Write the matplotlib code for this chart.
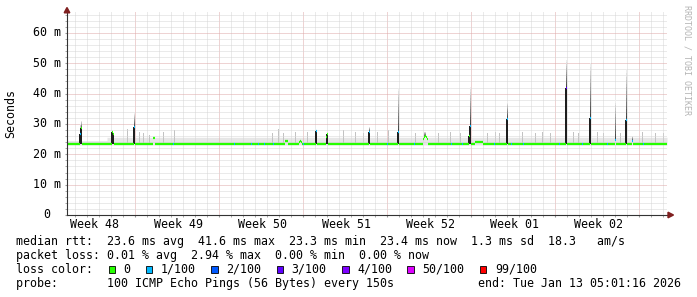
"""
SmokePing style latency chart: median rtt with smoke and loss colours
"""

import matplotlib
matplotlib.use("Agg")
import matplotlib.pyplot as plt
from matplotlib.collections import LineCollection
from matplotlib.patches import Polygon, Rectangle

W, H = 697, 297          # output size in pixels
MONO = "DejaVu Sans Mono"
FS = 8.4

# ============================================================================
# DATA - one slot = one pixel column = 2 h, 50 days
# ============================================================================
n_slots = 600
base_median = 23.4       # ms, the flat median line
base_low = 23.1

haze_start = [0, 40]     # light smoke above the median
haze_top = [24.5, 25.6]

# slots where the median leaves the flat line
spike_slot   = [13, 14, 45, 46, 67, 86, 87, 218, 219, 220, 232, 233, 234,
                249, 259, 260, 302, 331, 356, 357, 358, 359, 360, 402, 403,
                408, 409, 410, 411, 412, 413, 414, 415, 440, 499, 523, 548,
                559, 565]
spike_median = [26.6, 28.6, 27.2, 26.6, 29.0, 25.3, 25.5, 24.3, 24.4, 24.3,
                24.2, 24.5, 24.2, 27.8, 25.6, 26.8, 27.5, 27.2, 25.0, 25.8,
                25.9, 25.8, 25.0, 26.0, 29.4, 24.2, 24.2, 24.2, 24.2, 24.2,
                24.2, 24.2, 24.2, 31.7, 41.8, 32.0, 24.7, 31.3, 24.5]
spike_max    = [30.0, 31.0, 27.8, 27.2, 33.5, 26.0, 26.0, 25.2, 25.2, 25.2,
                25.2, 25.2, 25.2, 28.5, 26.5, 27.2, 29.0, 42.0, 26.0, 27.5,
                27.5, 26.5, 26.0, 28.0, 42.3, 24.8, 24.8, 24.8, 24.8, 24.8,
                24.8, 24.8, 24.8, 37.4, 51.0, 50.0, 38.0, 48.0, 26.0]
spike_loss   = [1, 0, 0, 0, 1, 0, 0, 0, 0, 0, 0, 0, 0, 1, 0, 0, 1, 1, 0, 0,
                0, 0, 0, 0, 1, 0, 0, 0, 0, 0, 0, 0, 0, 1, 3, 1, 1, 1, 1]

# flat-line slots with 1/100 loss (blue)
loss1_slots = [106, 167, 184, 191, 197, 206, 236, 320, 347, 384, 395, 427,
               444, 456, 492, 515, 540, 576]

# thin grey outlier pings above the line
outlier_slot = [60, 72, 76, 82, 96, 107, 205, 211, 216, 228, 240, 276, 288,
                296, 310, 321, 348, 371, 383, 393, 420, 428, 432, 455, 468,
                475, 483, 506, 511, 530, 536, 553, 575, 588, 596]
outlier_top = [28.5, 27.5, 27.0, 26.5, 27.5, 28.0, 27.0, 28.5, 27.0, 27.5,
               27.5, 28.0, 27.5, 27.0, 27.5, 28.0, 27.0, 27.0, 27.5, 27.0,
               27.0, 27.5, 27.0, 27.5, 27.0, 27.5, 27.0, 27.5, 27.0, 27.5,
               27.0, 27.0, 27.5, 27.0, 27.0]

loss_labels = ["0", "1/100", "2/100", "3/100", "4/100", "50/100", "99/100"]
loss_colors = ["#26ff00", "#00b8ff", "#0059ff", "#5e00ff", "#7e00ff",
               "#dd00ff", "#ff0000"]

week_labels = ["Week 48", "Week 49", "Week 50", "Week 51", "Week 52",
               "Week 01", "Week 02"]
first_week_slot = 68      # first week boundary
y_ticks = [0, 10, 20, 30, 40, 50, 60]
y_top = 66.9

legend_lines = [
    "median rtt:  23.6 ms avg  41.6 ms max  23.3 ms min  23.4 ms now  1.3 ms sd  18.3   am/s",
    "packet loss: 0.01 % avg  2.94 % max  0.00 % min  0.00 % now",
]
probe_text = "probe:       100 ICMP Echo Pings (56 Bytes) every 150s"
end_text = "end: Tue Jan 13 05:01:16 2026"


def fx(x):
    return x / W


def fy(y):
    return 1 - y / H


# ============================================================================
# SERIES
# ============================================================================
median = [base_median] * n_slots
loss = [0] * n_slots
top = [0.0] * n_slots
for i in range(len(haze_start)):
    end = haze_start[i + 1] if i + 1 < len(haze_start) else n_slots
    for s in range(haze_start[i], end):
        top[s] = haze_top[i]
for s in loss1_slots:
    loss[s] = 1
for s, m, l in zip(spike_slot, spike_median, spike_loss):
    median[s] = m
    loss[s] = l

# ============================================================================
# PLOT
# ============================================================================
fig = plt.figure(figsize=(W / 100, H / 100), dpi=100)
fig.patch.set_facecolor("white")
ax = fig.add_axes([fx(67), fy(215), 600 / W, 203 / H])
ax.set_xlim(0, n_slots)
ax.set_ylim(0, y_top)

xs = list(range(n_slots + 1))

# light smoke band
ax.fill_between(xs, [base_low] * (n_slots + 1), top + [top[-1]], step="post",
                color="#e6e6e6", lw=0, zorder=1)

# outlier pings
ax.bar(outlier_slot, [t - base_median for t in outlier_top], bottom=base_median,
       width=1, align="edge", color="#c2c2c2", lw=0, zorder=2)

# smoke above spikes: gradient dark -> light
n_layers = 14
for k in range(n_layers):
    bottoms, heights, xpos = [], [], []
    for s, m, mx in zip(spike_slot, spike_median, spike_max):
        if mx - m > 1.0:
            step = (mx - m) / n_layers
            xpos.append(s)
            bottoms.append(m + k * step)
            heights.append(step)
    g = 0.25 + 0.68 * k / (n_layers - 1)
    ax.bar(xpos, heights, bottom=bottoms, width=1.2, align="edge",
           color=(g, g, g), lw=0, zorder=3)

# dense smoke between flat line and raised median
col_x = [s for s, m in zip(spike_slot, spike_median) if m - base_median > 2.6]
col_m = [m for m in spike_median if m - base_median > 2.6]
ax.bar([s - 0.8 for s in col_x], [m - base_median for m in col_m],
       bottom=base_median, width=2.0, align="edge", color="#1e1e1e", lw=0,
       zorder=4)

# median line coloured by loss
segs = [[(s, median[s]), (s + 1, median[s])] for s in range(n_slots)]
cols = [loss_colors[loss[s]] for s in range(n_slots)]
ax.add_collection(LineCollection(segs, colors=cols, linewidths=1.6,
                                 capstyle="butt", zorder=5))

# grid (fine dots, drawn on top like rrdtool)
week_bounds = list(range(first_week_slot, n_slots, 84))
days = list(range(first_week_slot % 12, n_slots, 12))
ax.set_xticks(week_bounds)
ax.set_xticks(days, minor=True)
ax.set_yticks(y_ticks)
ax.set_yticks(list(range(0, 67, 2)), minor=True)
dots = (0, (1, 1))
ax.grid(which="minor", color="#d6d6d6", ls=dots, lw=0.72, zorder=6)
ax.grid(which="major", color="#dfa9a9", ls=dots, lw=0.72, zorder=6)
ax.set_axisbelow(False)
ax.tick_params(which="both", length=1.5, color="#999999",
               labelbottom=False, labelleft=False)

for side in ["top", "right"]:
    ax.spines[side].set_visible(False)
for side in ["left", "bottom"]:
    ax.spines[side].set_color("#333333")
    ax.spines[side].set_linewidth(0.8)
    ax.spines[side].set_zorder(7)

# y labels
for v in y_ticks:
    if v == 0:
        fig.text(fx(43), fy(215), "0", family=MONO, fontsize=FS,
                 ha="left", va="center")
    else:
        ax.text(-6.3, v, f"{v} m", family=MONO, fontsize=FS,
                ha="right", va="center")

# week labels
for i, lab in enumerate(week_labels):
    ax.text(first_week_slot - 41 + 84 * i, -13.4 / 3.033, lab, family=MONO,
            fontsize=FS, ha="center", va="baseline")

# arrows
arrow = "#7f1f1f"
fig.add_artist(Polygon([(fx(64.2), fy(12.8)), (fx(69.8), fy(12.8)),
                        (fx(67), fy(7.5))], closed=True, color=arrow,
                       transform=fig.transFigure))
fig.add_artist(Polygon([(fx(668), fy(212.2)), (fx(668), fy(217.8)),
                        (fx(673.5), fy(215))], closed=True, color=arrow,
                       transform=fig.transFigure))

fig.text(fx(11), fy(114), "Seconds", family=MONO, fontsize=FS,
         rotation=90, ha="center", va="center")
fig.text(fx(687), fy(5), "RRDTOOL / TOBI OETIKER", family=MONO, fontsize=6,
         color="#b4b4b4", rotation=-90, ha="center", va="top")

# legend
baselines = [245.3, 259.1, 272.9, 286.7]
for txt, yb in zip(legend_lines, baselines):
    fig.text(fx(16), fy(yb), txt, family=MONO, fontsize=FS, va="baseline")
fig.text(fx(16), fy(baselines[2]), "loss color:", family=MONO, fontsize=FS,
         va="baseline")
bx = 108.7
for lab, c in zip(loss_labels, loss_colors):
    fig.add_artist(Rectangle((fx(bx), fy(273.3)), 6.6 / W, 7.6 / H,
                             transform=fig.transFigure, facecolor=c,
                             edgecolor="black", lw=0.6))
    fig.text(fx(bx + 15), fy(baselines[2]), lab, family=MONO, fontsize=FS,
             va="baseline")
    bx += 30 + 7.08 * len(lab)
fig.text(fx(16), fy(baselines[3]), probe_text, family=MONO, fontsize=FS,
         va="baseline")
fig.text(fx(681), fy(baselines[3]), end_text, family=MONO, fontsize=FS,
         ha="right", va="baseline")

fig.savefig("out.png", dpi=100, facecolor="white")
